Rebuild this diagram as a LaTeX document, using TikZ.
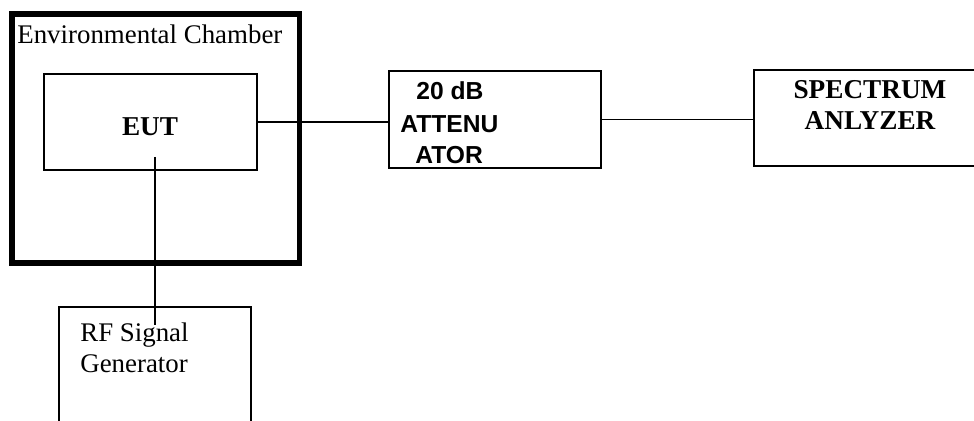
\documentclass[tikz,border=0pt]{standalone}
\usepackage{fontspec}
\setmainfont{Liberation Serif}
\newfontfamily\arialfont{Liberation Sans}
\usetikzlibrary{positioning}

\tikzset{
  unit/.style={draw,line width=1.2pt,inner sep=0pt},
  chamber/.style={draw,line width=3.2pt,inner sep=0pt},
  wire/.style={line width=1.1pt},
  serif/.style={inner sep=0pt,font=\fontsize{15.3}{17}\selectfont},
  serifbold/.style={inner sep=0pt,font=\fontsize{15.5}{17}\selectfont\bfseries},
  sansbold/.style={inner sep=0pt,font=\arialfont\fontsize{14}{16}\selectfont\bfseries}
}

\begin{document}
\begin{tikzpicture}[x=0.02cm,y=-0.02cm]
  \useasboundingbox (0,0) rectangle (974,421);
  \clip (0,0) rectangle (974,421);
  \node[chamber,minimum width=5.75cm,minimum height=4.98cm] (chamber) at (155.75,138.5) {};
  \node[unit,minimum width=4.26cm,minimum height=1.92cm] (eut) at (150.5,122) {};
  \node[unit,minimum width=4.24cm,minimum height=1.94cm] (atten) at (495,119.5) {};
  \node[unit,minimum width=5.2cm,minimum height=1.92cm] (spec) at (884,118) {};
  \node[unit,minimum width=3.84cm,minimum height=3.06cm] (gen) at (155,383.5) {};
  \node[serif,anchor=base west] (chamberlabel) at (17,44) {Environmental Chamber};
  \node[serifbold,anchor=base] (eutlabel) at (150,136) {EUT};
  \node[sansbold,anchor=base west] (attenA) at (416,100) {20 dB};
  \node[sansbold,anchor=base west] (attenB) at (400,133) {ATTENU};
  \node[sansbold,anchor=base west] (attenC) at (415,164) {ATOR};
  \node[serifbold,anchor=base] (specA) at (870,99) {SPECTRUM};
  \node[serifbold,anchor=base] (specB) at (870,130) {ANLYZER};
  \node[serif,anchor=base west] (genA) at (80,342) {RF Signal};
  \node[serif,anchor=base west] (genB) at (80,373) {Generator};
  \coordinate (eutport) at (155,157);
  \coordinate (genport) at (155,325);
  \draw[wire] (eut.east) -- (eut.east -| atten.west);
  \draw[wire] (atten.east) -- (atten.east -| spec.west);
  \draw[wire] (eutport) -- (genport);
\end{tikzpicture}
\end{document}
